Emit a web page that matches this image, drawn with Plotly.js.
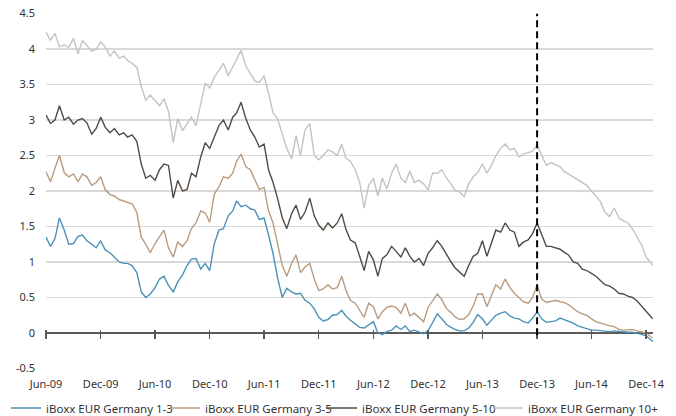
<!DOCTYPE html>
<html>
<head>
<meta charset="utf-8">
<script src="https://cdn.plot.ly/plotly-3.0.1.min.js"></script>
<style>html,body{margin:0;padding:0;background:#fff}#chart{width:676px;height:416px}</style>
</head>
<body>
<div id="chart"></div>
<script>
const dates = [
"2009-06-01","2009-06-16","2009-07-01","2009-07-16","2009-08-01","2009-08-16","2009-09-01","2009-09-16","2009-10-01","2009-10-16","2009-11-01","2009-11-16","2009-12-01","2009-12-16",
"2010-01-01","2010-01-16","2010-02-01","2010-02-16","2010-03-01","2010-03-16","2010-04-01","2010-04-16","2010-05-01","2010-05-16","2010-06-01","2010-06-16","2010-07-01","2010-07-16","2010-08-01","2010-08-16","2010-09-01","2010-09-16","2010-10-01","2010-10-16","2010-11-01","2010-11-16","2010-12-01","2010-12-16",
"2011-01-01","2011-01-16","2011-02-01","2011-02-16","2011-03-01","2011-03-16","2011-04-01","2011-04-16","2011-05-01","2011-05-16","2011-06-01","2011-06-16","2011-07-01","2011-07-16","2011-08-01","2011-08-16","2011-09-01","2011-09-16","2011-10-01","2011-10-16","2011-11-01","2011-11-16","2011-12-01","2011-12-16",
"2012-01-01","2012-01-16","2012-02-01","2012-02-16","2012-03-01","2012-03-16","2012-04-01","2012-04-16","2012-05-01","2012-05-16","2012-06-01","2012-06-16","2012-07-01","2012-07-16","2012-08-01","2012-08-16","2012-09-01","2012-09-16","2012-10-01","2012-10-16","2012-11-01","2012-11-16","2012-12-01","2012-12-16",
"2013-01-01","2013-01-16","2013-02-01","2013-02-16","2013-03-01","2013-03-16","2013-04-01","2013-04-16","2013-05-01","2013-05-16","2013-06-01","2013-06-16","2013-07-01","2013-07-16","2013-08-01","2013-08-16","2013-09-01","2013-09-16","2013-10-01","2013-10-16","2013-11-01","2013-11-16","2013-12-01","2013-12-16",
"2014-01-01","2014-01-16","2014-02-01","2014-02-16","2014-03-01","2014-03-16","2014-04-01","2014-04-16","2014-05-01","2014-05-16","2014-06-01","2014-06-16","2014-07-01","2014-07-16","2014-08-01","2014-08-16","2014-09-01","2014-09-16","2014-10-01","2014-10-16","2014-11-01","2014-11-16","2014-12-01","2014-12-16","2014-12-23"
];

const seriesNames = ["iBoxx EUR Germany 1-3","iBoxx EUR Germany 3-5","iBoxx EUR Germany 5-10","iBoxx EUR Germany 10+"];

const germany1to3 = [
1.35,1.22,1.33,1.62,1.45,1.25,1.26,1.36,1.38,1.30,
1.25,1.20,1.30,1.17,1.13,1.07,1.00,0.98,0.98,0.95,
0.85,0.58,0.50,0.55,0.64,0.76,0.80,0.67,0.58,0.72,
0.82,0.95,1.04,1.05,0.90,0.98,0.88,1.25,1.45,1.47,
1.65,1.72,1.86,1.78,1.80,1.75,1.73,1.60,1.62,1.38,
1.12,0.78,0.50,0.63,0.58,0.55,0.56,0.46,0.42,0.34,
0.22,0.17,0.19,0.25,0.26,0.32,0.24,0.18,0.13,0.08,
0.07,0.12,0.16,0.00,-0.02,0.02,0.04,0.10,0.05,0.10,
0.02,0.04,0.01,-0.01,0.03,0.15,0.27,0.20,0.12,0.08,
0.05,0.03,0.03,0.07,0.15,0.26,0.20,0.11,0.18,0.25,
0.28,0.30,0.24,0.21,0.20,0.16,0.14,0.21,0.30,0.20,
0.15,0.16,0.17,0.21,0.19,0.17,0.14,0.10,0.08,0.06,
0.04,0.04,0.03,0.02,0.02,0.03,0.02,0.01,0.01,0.01,
0.00,-0.02,-0.04,-0.09,-0.12];

const germany3to5 = [
2.27,2.13,2.32,2.50,2.26,2.20,2.24,2.13,2.24,2.20,
2.08,2.12,2.20,2.02,1.95,1.93,1.88,1.86,1.84,1.82,
1.70,1.35,1.25,1.13,1.26,1.35,1.45,1.20,1.07,1.28,
1.22,1.30,1.47,1.55,1.72,1.69,1.56,1.95,2.06,2.20,
2.18,2.25,2.42,2.52,2.34,2.30,2.15,2.02,2.05,1.72,
1.55,1.28,0.95,0.80,0.98,1.10,0.85,0.93,0.98,0.76,
0.60,0.62,0.68,0.62,0.64,0.80,0.60,0.46,0.42,0.32,
0.22,0.42,0.37,0.20,0.30,0.36,0.38,0.36,0.28,0.42,
0.24,0.28,0.22,0.16,0.36,0.46,0.55,0.47,0.34,0.29,
0.23,0.19,0.20,0.26,0.38,0.55,0.55,0.37,0.52,0.68,
0.62,0.76,0.64,0.56,0.50,0.44,0.42,0.50,0.68,0.48,
0.43,0.44,0.46,0.44,0.43,0.40,0.35,0.30,0.27,0.25,
0.20,0.16,0.14,0.12,0.10,0.09,0.05,0.04,0.04,0.05,
0.03,0.02,0.00,-0.05,-0.07];

const germany5to10 = [
3.07,2.95,3.00,3.20,3.00,3.04,2.94,3.00,3.02,2.96,
2.80,2.88,3.04,2.90,2.82,2.88,2.79,2.82,2.76,2.79,
2.70,2.38,2.18,2.22,2.15,2.30,2.38,2.36,1.90,2.15,
2.00,2.02,2.25,2.20,2.48,2.68,2.60,2.75,2.92,3.00,
2.86,3.04,3.10,3.25,3.02,2.86,2.76,2.62,2.66,2.30,
2.12,1.90,1.62,1.47,1.68,1.80,1.60,1.70,1.90,1.65,
1.52,1.45,1.55,1.48,1.55,1.68,1.46,1.31,1.27,1.08,
0.88,1.15,1.03,0.80,1.05,1.10,1.22,1.15,1.07,1.20,
1.08,1.00,1.05,0.95,1.12,1.20,1.30,1.22,1.10,1.00,
0.92,0.86,0.80,0.95,1.08,1.12,1.30,1.08,1.25,1.45,
1.42,1.55,1.45,1.42,1.22,1.28,1.31,1.40,1.55,1.40,
1.22,1.22,1.20,1.18,1.14,1.10,1.00,0.98,0.90,0.88,
0.84,0.80,0.74,0.68,0.66,0.62,0.56,0.55,0.52,0.50,
0.45,0.38,0.30,0.23,0.20];

const germany10plus = [
4.24,4.12,4.22,4.03,4.06,4.02,4.15,3.93,4.12,4.05,
3.97,4.00,4.10,4.03,3.90,3.97,3.87,3.90,3.84,3.80,
3.74,3.47,3.28,3.35,3.28,3.20,3.30,3.12,2.68,3.02,
2.85,2.95,3.04,2.92,3.25,3.52,3.45,3.60,3.70,3.80,
3.62,3.75,3.85,3.98,3.76,3.65,3.55,3.53,3.62,3.38,
3.10,3.02,2.82,2.60,2.45,2.78,2.50,2.86,2.95,2.50,
2.44,2.50,2.58,2.55,2.50,2.66,2.46,2.42,2.30,2.12,
1.76,2.08,2.18,1.93,2.18,2.03,2.25,2.38,2.18,2.12,
2.28,2.12,2.15,2.10,2.02,2.25,2.25,2.30,2.18,2.10,
2.01,1.99,1.92,2.10,2.20,2.26,2.38,2.25,2.36,2.50,
2.60,2.66,2.58,2.60,2.48,2.52,2.54,2.56,2.65,2.50,
2.36,2.40,2.37,2.34,2.28,2.24,2.20,2.15,2.12,2.08,
2.00,1.93,1.85,1.70,1.64,1.76,1.62,1.58,1.55,1.47,
1.36,1.24,1.07,0.99,0.95];

const yTickVals = [-0.5,0,0.5,1,1.5,2,2.5,3,3.5,4,4.5];
const yTickText = ["-0.5","0","0.5","1","1.5","2","2.5","3","3.5","4","4.5"];
const markerDate = "2013-12-01";
const xRange = ["2009-06-01", "2014-12-24"];
const yRange = [-0.5, 4.5];

const colors = ["#4b92b8","#b99c80","#524a43","#c3c3c3"];
const allSeries = [germany1to3, germany3to5, germany5to10, germany10plus];
const legendIds = ["legend","legend2","legend3","legend4"];
const legendTextStarts = [48, 207, 364, 530];   // pixel where each legend label begins

const traces = allSeries.map((ys, i) => ({
  x: dates, y: ys, type: "scatter", mode: "lines", name: seriesNames[i],
  legend: legendIds[i],
  line: {color: colors[i], width: 1.4}
}));

const W = 676, H = 416;
const xDomain = [46 / W, 653 / W];
const yDomain = [(H - 368.5) / H, (H - 13.5) / H];
const zeroPos = yDomain[0] + (0 - yRange[0]) / (yRange[1] - yRange[0]) * (yDomain[1] - yDomain[0]);

const font = {family: "Noto Sans, sans-serif", size: 11, color: "#333333"};
const legendFont = {family: "Noto Sans, sans-serif", size: 11.5, color: "#333333"};

const layout = {
  width: W, height: H,
  margin: {l: 0, r: 0, t: 0, b: 0, autoexpand: false},
  paper_bgcolor: "#ffffff", plot_bgcolor: "#ffffff",
  font: font,
  showlegend: true,
  xaxis: {
    domain: xDomain, type: "date", range: xRange,
    anchor: "free", position: zeroPos + 4 / H,
    tick0: "2009-06-01", dtick: "M6", tickformat: "%b-%y",
    showgrid: false, zeroline: false, showline: false,
    ticks: "outside", ticklen: 9, tickwidth: 1.3, tickcolor: "#595959",
    ticklabelstandoff: 36, tickfont: font
  },
  yaxis: {
    domain: yDomain, range: yRange, tickvals: yTickVals, ticktext: yTickText,
    showgrid: true, gridcolor: "#d9d9d9", gridwidth: 1.3,
    zeroline: true, zerolinecolor: "#595959", zerolinewidth: 1.5,
    showline: false, ticks: "", ticklabelstandoff: 10, tickfont: font
  },
  shapes: [{
    type: "line", xref: "x", yref: "y", x0: markerDate, x1: markerDate, y0: -0.03, y1: 4.5,
    line: {color: "#000000", width: 2, dash: "7px,4px"}
  }]
};
legendIds.forEach((id, i) => {
  layout[id] = {orientation: "h", x: (legendTextStarts[i] - 42) / W, xanchor: "left",
                y: (H - 408) / H, yanchor: "middle", font: legendFont, itemwidth: 30,
                bgcolor: "rgba(0,0,0,0)"};
});

Plotly.newPlot("chart", traces, layout, {staticPlot: true, displayModeBar: false});
</script>
</body>
</html>
